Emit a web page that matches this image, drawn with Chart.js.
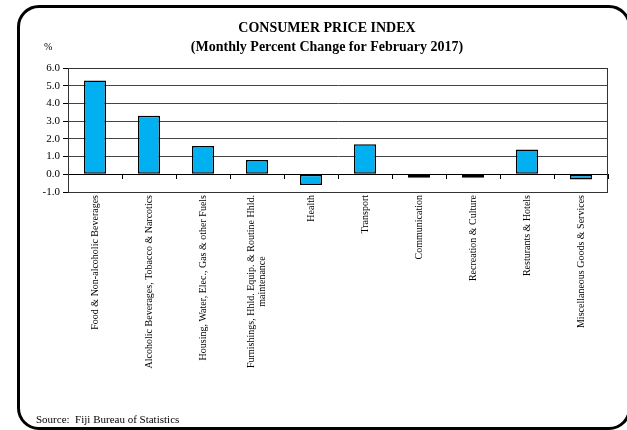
<!DOCTYPE html>
<html>
<head>
<meta charset="utf-8">
<script src="https://cdn.jsdelivr.net/npm/chart.js@4"></script>
<style>
    html, body { margin: 0; padding: 0; background: #fff; }
    #wrap { position: relative; width: 627px; height: 430px; overflow: hidden; }
    #frame {
        position: absolute; left: 17px; top: 5px; width: 608px; height: 419px;
        border: 3px solid #000; border-radius: 22px; box-sizing: content-box;
    }
    #cpiChart { position: absolute; left: 0; top: 0; }
</style>
</head>
<body>
<div id="wrap">
    <div id="frame"></div>
    <canvas id="cpiChart" width="627" height="430"></canvas>
</div>
<script>
/* CPI monthly percent change, February 2017 */
const categories = [
    'Food & Non-alcoholic Beverages',
    'Alcoholic Beverages, Tobacco & Narcotics',
    'Housing, Water, Elec., Gas & other Fuels',
    ['Furnishings, Hhld. Equip. & Routine Hhld.', 'maintenance'],
    'Health',
    'Transport',
    'Communication',
    'Recreation & Culture',
    'Resturants & Hotels',
    'Miscellaneous Goods & Services'
];
const monthlyChange = [5.3, 3.3, 1.6, 0.8, -0.6, 1.7, -0.2, -0.2, 1.4, -0.3];
const yTicks = [-1, 0, 1, 2, 3, 4, 5, 6];
const titleLines = ['CONSUMER PRICE INDEX', '(Monthly Percent Change for February 2017)'];
const unitLabel = '%';
const sourceNote = 'Source:  Fiji Bureau of Statistics';

const SERIF = '"Liberation Serif", "Times New Roman", serif';

// Draws the plot frame, rotated category labels and the loose texts
const extrasPlugin = {
    id: 'extras',
    afterDraw(chart) {
        const ctx = chart.ctx;
        const area = chart.chartArea;
        const x = chart.scales.x;

        ctx.save();
        ctx.strokeStyle = '#333';
        ctx.lineWidth = 1;
        ctx.strokeRect(area.left + 0.5, area.top + 0.5, area.right - area.left - 1, area.bottom - area.top);

        // category labels, reading bottom to top
        ctx.fillStyle = '#000';
        ctx.font = '10px ' + SERIF;
        ctx.textBaseline = 'middle';
        ctx.textAlign = 'center';
        const lineH = 11;
        categories.forEach((cat, i) => {
            const lines = Array.isArray(cat) ? cat : [cat];
            const maxW = Math.max(...lines.map(l => ctx.measureText(l).width));
            const cx = x.getPixelForValue(i);
            ctx.save();
            ctx.translate(cx, area.bottom + 3 + maxW / 2);
            ctx.rotate(-Math.PI / 2);
            lines.forEach((l, j) => {
                ctx.fillText(l, 0, (j - (lines.length - 1) / 2) * lineH);
            });
            ctx.restore();
        });

        // title
        ctx.textAlign = 'center';
        ctx.textBaseline = 'middle';
        ctx.font = 'bold 14px ' + SERIF;
        ctx.fillText(titleLines[0], 327, 28);
        ctx.fillText(titleLines[1], 327, 47);

        ctx.textAlign = 'left';
        ctx.font = '10px ' + SERIF;
        ctx.fillText(unitLabel, 44, 47);

        ctx.font = '11px ' + SERIF;
        ctx.fillText(sourceNote, 36, 420);
        ctx.restore();
    }
};

new Chart(document.getElementById('cpiChart'), {
    type: 'bar',
    data: {
        labels: categories,
        datasets: [{
            data: monthlyChange,
            backgroundColor: '#00B0F0',
            borderColor: '#000',
            borderWidth: 1.5,
            borderSkipped: false,
            categoryPercentage: 1,
            barPercentage: 0.41
        }]
    },
    options: {
        responsive: false,
        animation: false,
        layout: { padding: { left: 17, top: 68, right: 19, bottom: 238 } },
        plugins: { legend: { display: false }, tooltip: { enabled: false }, title: { display: false } },
        scales: {
            x: {
                position: { y: 0 },
                offset: true,
                grid: { offset: true, drawOnChartArea: false, drawTicks: true, tickLength: 4, color: '#000' },
                border: { display: true, color: '#000', width: 1 },
                ticks: { display: false }
            },
            y: {
                min: yTicks[0],
                max: yTicks[yTicks.length - 1],
                afterFit(scale) { scale.width = 51; },
                afterBuildTicks(scale) { scale.ticks = yTicks.map(v => ({ value: v })); },
                ticks: {
                    color: '#000',
                    font: { family: SERIF, size: 11 },
                    padding: 3,
                    callback: v => v.toFixed(1)
                },
                grid: { color: '#444', lineWidth: 1, tickLength: 5, tickColor: '#000', tickBorderDash: [], borderDash: [1, 1] },
                border: { display: true, color: '#333' }
            }
        }
    },
    plugins: [extrasPlugin]
});
</script>
</body>
</html>
